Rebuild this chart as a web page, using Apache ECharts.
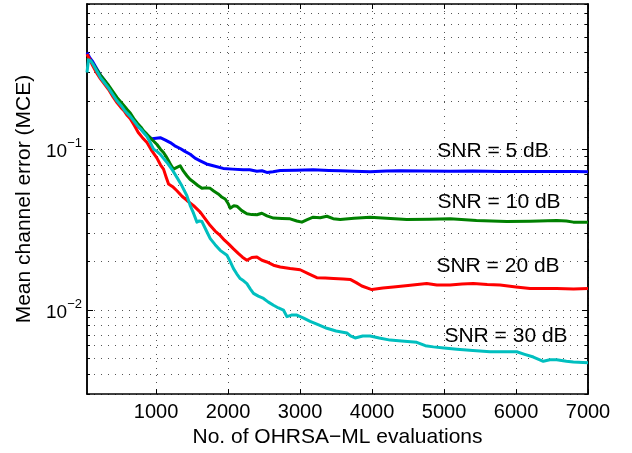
<!DOCTYPE html>
<html><head><meta charset="utf-8">
<script src="https://cdn.jsdelivr.net/npm/echarts@6/dist/echarts.min.js"></script>
<style>html,body{margin:0;padding:0;background:#fff}#c{width:632px;height:453px}</style>
</head><body><div id="c"></div>
<script>
// ---- data ----
const xTicks = [1000, 2000, 3000, 4000, 5000, 6000, 7000];
const xMin = 40, xMax = 7000;
const yMin = 0.003, yMax = 0.8;
const yMajorTicks = [0.01, 0.1];
const yAllTicks = [0.003,0.004,0.005,0.006,0.007,0.008,0.009,0.01,
                   0.02,0.03,0.04,0.05,0.06,0.07,0.08,0.09,0.1,
                   0.2,0.3,0.4,0.5,0.6,0.7,0.8];
const seriesLabels = ['SNR = 5 dB', 'SNR = 10 dB', 'SNR = 20 dB', 'SNR = 30 dB'];
const xTitle = 'No. of OHRSA\u2212ML evaluations';
const yTitle = 'Mean channel error (MCE)';

const snr5 = [[40,0.40],[80,0.37],[120,0.35],[170,0.32],[225,0.29],[280,0.27],[340,0.245],[400,0.222],[456,0.205],[510,0.19],[560,0.18],[600,0.168],[641,0.162],[690,0.15],[740,0.14],[790,0.133],[826,0.128],[873,0.122],[942,0.116],[1000,0.117],[1058,0.118],[1130,0.114],[1196,0.11],[1260,0.105],[1335,0.101],[1400,0.097],[1474,0.093],[1540,0.088],[1613,0.0847],[1700,0.081],[1793,0.0789],[1932,0.076],[2060,0.0752],[2210,0.0745],[2300,0.0745],[2400,0.073],[2470,0.0735],[2539,0.0717],[2624,0.0725],[2724,0.0738],[2950,0.074],[3182,0.0745],[3400,0.0738],[3557,0.0734],[3750,0.073],[3973,0.0724],[4200,0.0732],[4390,0.0735],[4700,0.0732],[5084,0.073],[5400,0.0733],[5778,0.0728],[6200,0.0728],[6565,0.0728],[6800,0.0726],[7000,0.0725]];
const snr10 = [[40,0.37],[80,0.36],[120,0.34],[170,0.315],[225,0.29],[280,0.27],[340,0.25],[400,0.228],[456,0.21],[510,0.197],[560,0.185],[600,0.176],[641,0.168],[690,0.155],[740,0.145],[790,0.137],[826,0.13],[873,0.124],[942,0.115],[1012,0.107],[1060,0.1],[1103,0.0954],[1140,0.09],[1173,0.0847],[1210,0.079],[1242,0.0752],[1289,0.077],[1335,0.0789],[1380,0.073],[1428,0.0684],[1470,0.065],[1520,0.0625],[1580,0.0595],[1637,0.0571],[1700,0.0575],[1752,0.0571],[1800,0.055],[1863,0.0527],[1910,0.0505],[1960,0.049],[2000,0.046],[2029,0.043],[2080,0.0445],[2122,0.0442],[2190,0.0415],[2261,0.0397],[2330,0.0392],[2400,0.0391],[2469,0.04],[2540,0.0385],[2631,0.0373],[2750,0.0371],[2862,0.0369],[2955,0.0358],[3025,0.0352],[3100,0.0365],[3182,0.0378],[3280,0.0375],[3372,0.0383],[3460,0.037],[3557,0.0366],[3750,0.0372],[3973,0.0378],[4200,0.0372],[4482,0.0365],[4800,0.0367],[5084,0.0369],[5450,0.036],[5871,0.0355],[6200,0.0357],[6565,0.036],[6700,0.0358],[6796,0.0352],[7000,0.0352]];
const snr20 = [[40,0.39],[80,0.36],[120,0.33],[170,0.3],[225,0.275],[280,0.255],[340,0.235],[400,0.212],[456,0.195],[510,0.182],[560,0.172],[600,0.162],[641,0.155],[700,0.14],[752,0.127],[810,0.118],[873,0.11],[942,0.0976],[1012,0.088],[1060,0.08],[1103,0.0752],[1140,0.067],[1173,0.0608],[1230,0.0585],[1289,0.0552],[1360,0.051],[1428,0.048],[1520,0.0446],[1613,0.0406],[1680,0.037],[1752,0.0335],[1820,0.031],[1890,0.0291],[1950,0.0272],[2006,0.0258],[2075,0.024],[2145,0.0224],[2200,0.0213],[2261,0.0204],[2330,0.0212],[2400,0.0214],[2470,0.0204],[2539,0.0199],[2630,0.019],[2724,0.0185],[2862,0.0181],[3001,0.0178],[3120,0.0168],[3233,0.0159],[3350,0.0158],[3464,0.0157],[3600,0.0156],[3696,0.0155],[3780,0.0148],[3858,0.0141],[3997,0.0134],[4150,0.0137],[4297,0.0139],[4500,0.0142],[4760,0.0146],[4900,0.0143],[5084,0.0143],[5250,0.0145],[5407,0.0146],[5600,0.0144],[5778,0.0143],[6000,0.0139],[6195,0.0136],[6400,0.0136],[6565,0.0136],[6800,0.0135],[7000,0.0136]];
const snr30 = [[40,0.30],[60,0.36],[90,0.355],[120,0.34],[170,0.31],[225,0.28],[280,0.26],[340,0.24],[400,0.218],[456,0.2],[510,0.188],[560,0.175],[600,0.167],[641,0.16],[690,0.15],[740,0.14],[790,0.133],[826,0.127],[873,0.12],[920,0.11],[965,0.1],[1012,0.097],[1058,0.093],[1100,0.088],[1151,0.0827],[1220,0.075],[1289,0.0668],[1360,0.059],[1428,0.0514],[1474,0.0446],[1520,0.04],[1567,0.0352],[1600,0.0358],[1637,0.0355],[1700,0.031],[1752,0.0278],[1820,0.0255],[1890,0.0235],[1984,0.0219],[2030,0.02],[2075,0.0181],[2120,0.0168],[2168,0.0157],[2215,0.0152],[2261,0.0146],[2310,0.0135],[2353,0.0127],[2420,0.0122],[2492,0.0118],[2560,0.0112],[2631,0.0107],[2700,0.0103],[2769,0.0100],[2817,0.0091],[2880,0.0093],[2955,0.0093],[3050,0.0089],[3140,0.0085],[3250,0.0081],[3372,0.0077],[3500,0.0074],[3650,0.0072],[3700,0.0069],[3765,0.0067],[3870,0.0069],[3973,0.0069],[4100,0.0067],[4251,0.0065],[4450,0.0064],[4621,0.0063],[4740,0.006],[4852,0.0059],[5000,0.0058],[5177,0.0057],[5400,0.0056],[5639,0.0055],[5800,0.0055],[6010,0.0055],[6120,0.0053],[6241,0.0051],[6379,0.0048],[6470,0.0049],[6565,0.0049],[6700,0.0048],[6796,0.00475],[7000,0.0047]];

// ---- chart ----
const FONT = '"Liberation Sans", Arial, Helvetica, sans-serif';
const L = v => Math.log10(v);
const AXC = '#000';
const dotted = {type:[1,6], color:'#555', width:1};
const yMinors = yAllTicks.filter(v => yMajorTicks.indexOf(v) < 0);

function auxY(pos, ticks, len, extra) {
  return Object.assign({
    type:'value', position:pos, min:L(yMin), max:L(yMax),
    axisLine:{show:true, onZero:false, lineStyle:{color:AXC, width:1.5}},
    axisTick:{show:true, inside:true, length:len, customValues:ticks.map(L), lineStyle:{color:AXC, width:1}},
    axisLabel:{show:false}, splitLine:{show:false}
  }, extra || {});
}

const chart = echarts.init(document.getElementById('c'), null, {renderer:'canvas'});
chart.setOption({
  animation:false,
  backgroundColor:'#fff',
  grid:{left:87, right:44, top:4, bottom:57, containLabel:false},
  xAxis:[
    {type:'value', position:'bottom', min:xMin, max:xMax,
     name:xTitle, nameLocation:'middle', nameGap:30,
     nameTextStyle:{fontFamily:FONT, fontSize:21, color:'#000'},
     axisLine:{show:true, onZero:false, lineStyle:{color:AXC, width:1.5}},
     axisTick:{show:true, inside:true, length:5, customValues:xTicks, lineStyle:{color:AXC}},
     axisLabel:{show:true, customValues:xTicks, formatter: v => String(v),
                fontFamily:FONT, fontSize:20, color:'#000', margin:8},
     splitLine:{show:true, lineStyle:dotted}},
    {type:'value', position:'top', min:xMin, max:xMax,
     axisLine:{show:true, onZero:false, lineStyle:{color:AXC, width:1.5}},
     axisTick:{show:true, inside:true, length:5, customValues:xTicks, lineStyle:{color:AXC}},
     axisLabel:{show:false}, splitLine:{show:false}}
  ],
  yAxis:[
    {type:'log', logBase:10, min:yMin, max:yMax, show:false},
    auxY('left', yMajorTicks, 6, {
      name:yTitle, nameLocation:'middle', nameGap:52, nameRotate:90,
      nameTextStyle:{fontFamily:FONT, fontSize:21, color:'#000'},
      axisLabel:{show:true, customValues:yMajorTicks.map(L), margin:5,
        formatter: v => '{b|10}{s|\u2212' + Math.round(-v) + '}',
        rich:{ b:{fontFamily:FONT, fontSize:19, color:'#000', padding:[5,0,0,0]},
               s:{fontFamily:FONT, fontSize:13, color:'#000', verticalAlign:'top'} }}
    }),
    auxY('left', yAllTicks, 3, {splitLine:{show:true, lineStyle:dotted}}),
    auxY('right', yMajorTicks, 6),
    auxY('right', yMinors, 3)
  ],
  series:[
    {name:seriesLabels[0], type:'line', data:snr5, color:'#0000ff'},
    {name:seriesLabels[1], type:'line', data:snr10, color:'#008000'},
    {name:seriesLabels[2], type:'line', data:snr20, color:'#ff0000'},
    {name:seriesLabels[3], type:'line', data:snr30, color:'#00bfbf'}
  ].map(s => Object.assign(s, {xAxisIndex:0, yAxisIndex:0, showSymbol:false, symbol:'none',
      lineStyle:{width:3, color:s.color, join:'round'}, z:3})),
  graphic:[
    [493, 151], [499, 202], [498, 266], [506, 336]
  ].map((p, i) => ({type:'text', x:p[0], y:p[1], z:10,
      style:{text:seriesLabels[i], fontFamily:FONT, fontSize:21, fill:'#000',
             align:'center', verticalAlign:'middle', textAlign:'center', textVerticalAlign:'middle'}}))
});
</script></body></html>
